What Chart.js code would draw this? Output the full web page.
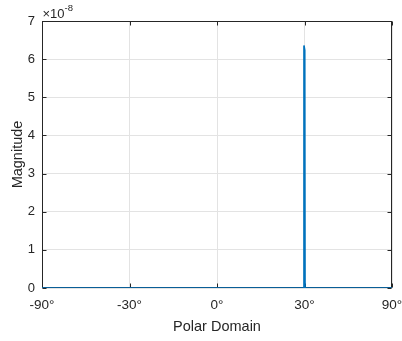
<!DOCTYPE html>
<html>
<head>
<meta charset="utf-8">
<script src="https://cdn.jsdelivr.net/npm/chart.js@4/dist/chart.umd.min.js"></script>
<style>
html,body{margin:0;padding:0;background:#fff;}
canvas{display:block;}
</style>
</head>
<body>
<canvas id="c" width="402" height="341" style="width:402px;height:341px"></canvas>
<script>
// ---- data ----
const anglesDeg = [-90, 29.7, 29.8, 30.1, 30.2, 90];        // polar angle, degrees
const magnitudeE8 = [0, 0, 6.36, 6.23, 0, 0];                // magnitude, in units of 1e-8
const yExponent = -8;
const xTickAngles = [-90, -30, 0, 30, 90];
const xTickLabels = ['-90°', '-30°', '0°', '30°', '90°'];
const yTicks = [0, 1, 2, 3, 4, 5, 6, 7];

const FONT = "'Liberation Sans', Arial, Helvetica, sans-serif";
const AX = '#262626';
const toU = d => Math.sin(d * Math.PI / 180); // sine-space axis as in the reference
const points = anglesDeg.map((a, i) => ({x: toU(a), y: magnitudeE8[i]}));
const xTickU = xTickAngles.map(toU);

const boxPlugin = {
  id: 'box',
  beforeDatasetsDraw(chart) {
    const {ctx, chartArea: a, scales} = chart;
    ctx.save();
    ctx.strokeStyle = AX;
    ctx.lineWidth = 1;
    const L = Math.round(a.left) + 0.5, R = Math.round(a.right) - 0.5;
    const T = Math.round(a.top) + 0.5, B = Math.round(a.bottom) - 0.5;
    ctx.strokeRect(L, T, R - L, B - T);
    ctx.beginPath();
    const tl = 4;
    scales.x.ticks.forEach(t => {
      const px = Math.round(scales.x.getPixelForValue(t.value)) + 0.5;
      ctx.moveTo(px, B); ctx.lineTo(px, B - tl);
      ctx.moveTo(px, T); ctx.lineTo(px, T + tl);
    });
    scales.y.ticks.forEach(t => {
      const py = Math.round(scales.y.getPixelForValue(t.value)) + 0.5;
      ctx.moveTo(L, py); ctx.lineTo(L + tl, py);
      ctx.moveTo(R, py); ctx.lineTo(R - tl, py);
    });
    ctx.stroke();
    ctx.restore();
  },
  afterDraw(chart) {
    const {ctx, chartArea: a} = chart;
    ctx.save();
    ctx.fillStyle = AX;
    ctx.textBaseline = 'alphabetic';
    ctx.textAlign = 'left';
    ctx.font = '13px ' + FONT;
    const base = '×10';
    ctx.fillText(base, a.left + 0.5, 17.5);
    const w = ctx.measureText(base).width;
    ctx.font = '9.5px ' + FONT;
    ctx.fillText(String(yExponent), a.left + 0.5 + w, 11);
    ctx.restore();
  }
};

new Chart(document.getElementById('c'), {
  type: 'line',
  data: {
    datasets: [{
      data: points,
      borderColor: '#0072BD',
      borderWidth: 1.6,
      pointRadius: 0,
      tension: 0,
      fill: false
    }]
  },
  options: {
    responsive: false,
    devicePixelRatio: 1,
    animation: false,
    layout: {padding: {left: 0, right: 10, top: 21, bottom: 0}},
    plugins: {legend: {display: false}, tooltip: {enabled: false}},
    scales: {
      x: {
        type: 'linear',
        min: -1, max: 1,
        afterBuildTicks(s) { s.ticks = xTickU.map(v => ({value: v})); },
        afterFit(s) { s.height = 53; s.paddingLeft = 0; s.paddingRight = 0; },
        grid: {color: '#e3e3e3', drawTicks: false, lineWidth: 1},
        border: {display: false},
        ticks: {
          autoSkip: false, maxRotation: 0, minRotation: 0, padding: 9.5,
          color: AX, font: {family: FONT, size: 13.5},
          callback(v, i) { return xTickLabels[i]; }
        },
        title: {display: true, text: 'Polar Domain', color: AX,
                font: {family: FONT, size: 14.5}, padding: {top: 0, bottom: 5}}
      },
      y: {
        type: 'linear',
        min: 0, max: 7,
        afterBuildTicks(s) { s.ticks = yTicks.map(v => ({value: v})); },
        afterFit(s) { s.width = 42; s.paddingTop = 0; s.paddingBottom = 0; },
        grid: {color: '#e3e3e3', drawTicks: false, lineWidth: 1},
        border: {display: false},
        ticks: {
          padding: 7, color: AX, font: {family: FONT, size: 13},
          callback(v) { return String(v); }
        },
        title: {display: true, text: 'Magnitude', color: AX,
                font: {family: FONT, size: 14.5}, padding: {top: 8.8, bottom: 0}}
      }
    }
  },
  plugins: [boxPlugin]
});
</script>
</body>
</html>
